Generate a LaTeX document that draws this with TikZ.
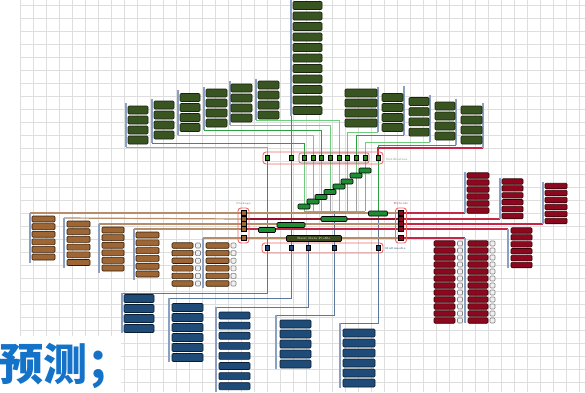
\documentclass[tikz,border=0pt]{standalone}
\usepackage{fontspec}
\newfontfamily\cjk{Noto Sans CJK SC}
\usetikzlibrary{positioning}

\definecolor{gfill}{RGB}{56,84,33}
\definecolor{gedge}{RGB}{25,35,15}
\definecolor{brfill}{RGB}{158,102,52}
\definecolor{bredge}{RGB}{50,30,10}
\definecolor{rdfill}{RGB}{140,8,30}
\definecolor{rdedge}{RGB}{50,0,5}
\definecolor{blfill}{RGB}{30,75,120}
\definecolor{bledge}{RGB}{10,30,50}
\definecolor{grpblue}{RGB}{140,160,195}
\definecolor{gridgray}{RGB}{222,222,222}
\definecolor{wgreen}{RGB}{110,205,125}
\definecolor{wgreendk}{RGB}{40,160,60}
\definecolor{wbrown}{RGB}{182,140,105}
\definecolor{wred}{RGB}{195,40,70}
\definecolor{wreddk}{RGB}{150,20,45}
\definecolor{wblue}{RGB}{90,120,155}
\definecolor{framered}{RGB}{240,105,105}
\definecolor{cjkblue}{RGB}{20,115,200}
\definecolor{olivebar}{RGB}{60,75,30}
\definecolor{stairgreen}{RGB}{30,140,50}

\pgfdeclarelayer{gridlayer}
\pgfdeclarelayer{wires}
\pgfsetlayers{gridlayer,wires,main}

\tikzset{
  anybox/.style={rounded corners=1pt, line width=0.6pt, inner sep=0pt},
  gbox/.style={anybox, draw=gedge, fill=gfill, minimum height=8pt},
  brbox/.style={anybox, draw=bredge, fill=brfill, minimum height=6pt},
  rdbox/.style={anybox, draw=rdedge, fill=rdfill, minimum height=5.5pt},
  blbox/.style={anybox, draw=bledge, fill=blfill, minimum height=8pt},
  icobox/.style={anybox, draw=gray, fill=gray!12, minimum width=5pt, minimum height=5pt},
  gpin/.style={draw=black, fill=gfill!70!green, minimum width=4pt, minimum height=5pt, inner sep=0pt},
  brpin/.style={draw=black, fill=brfill, minimum width=5pt, minimum height=5pt, inner sep=0pt},
  rdpin/.style={draw=black, fill=rdfill, minimum width=5pt, minimum height=5pt, inner sep=0pt},
  blpin/.style={draw=black, fill=blfill, minimum width=4pt, minimum height=5pt, inner sep=0pt},
  stairbox/.style={anybox, draw=black, fill=stairgreen, minimum width=12pt, minimum height=5pt},
  frame/.style={draw=framered, line width=0.9pt, rounded corners=3pt, inner sep=0pt},
  grpline/.style={grpblue, line width=1.6pt},
  gwire/.style={wgreen, line width=0.9pt},
  gwiredk/.style={wgreendk, line width=0.9pt},
  bwire/.style={wbrown, line width=1.2pt},
  rwire/.style={wred, line width=1.1pt},
  rwiredk/.style={wreddk, line width=1.1pt},
  uwire/.style={wblue, line width=0.8pt},
  graywire/.style={gray!75, line width=0.8pt},
  tag/.style={font=\fontsize{3}{3}\selectfont, inner sep=0pt}
}

% one stack of boxes with its bar:
% name, box style, bar x, bar top, bar bottom, box x, first y, pitch, count
\newcommand{\boxstack}[9]{%
  \coordinate (#1-top) at (#3,#4);
  \coordinate (#1-bot) at (#3,#5);
  \draw[grpline] (#1-top) -- (#1-bot);
  \foreach \k in {1,...,#9}
    \node[#2] (#1-\k) at (#6,{#7+(\k-1)*#8}) {};
}

\begin{document}
\begin{tikzpicture}[x=1pt,y=-1pt]
\useasboundingbox (0,0) rectangle (585,392);

\begin{pgfonlayer}{gridlayer}
\foreach \gx in {20,33,...,585}
  \draw[gridgray, line width=0.5pt] (\gx,0) -- (\gx,392);
\foreach \gy in {5,18,...,392}
  \draw[gridgray, line width=0.5pt] (20,\gy) -- (585,\gy);
\end{pgfonlayer}

% green stacks (top)
\boxstack{gA}{gbox,minimum width=20pt}{125.7}{103}{147}{138}{110}{10}{4}
\boxstack{gB}{gbox,minimum width=20pt}{151.7}{99}{143}{164}{105}{10}{4}
\boxstack{gC}{gbox,minimum width=20pt}{177.7}{90}{135}{190}{97.5}{10}{4}
\boxstack{gD}{gbox,minimum width=21pt}{204}{87}{130}{216.5}{93}{10}{4}
\boxstack{gE}{gbox,minimum width=21pt}{229.7}{81}{125}{241.5}{88}{10}{4}
\boxstack{gF}{gbox,minimum width=21pt}{255.7}{79}{120}{268.5}{85}{10}{4}
\boxstack{gcol}{gbox,minimum width=29pt}{291}{0}{116}{307.5}{5.5}{10.5}{11}
\boxstack{gR1}{gbox,minimum width=32pt}{378}{87}{132}{361}{93}{10}{4}
\boxstack{gR2}{gbox,minimum width=21pt}{404}{86}{135}{392.5}{97.5}{10}{4}
\boxstack{gR3}{gbox,minimum width=20pt}{430}{95}{142}{419}{101.5}{10.2}{4}
\boxstack{gR4}{gbox,minimum width=20pt}{456}{99}{145}{445}{106}{10}{4}
\boxstack{gR5}{gbox,minimum width=21pt}{483}{103}{148}{471.5}{110}{10}{4}

% brown stacks (left)
\boxstack{brA}{brbox,minimum width=23pt}{30}{213}{263}{43.5}{219}{7.6}{6}
\boxstack{brB}{brbox,minimum width=23pt}{64}{218}{268}{78.5}{224}{7.7}{6}
\boxstack{brC}{brbox,minimum width=22pt}{99}{224}{273}{113}{230}{7.6}{6}
\boxstack{brD}{brbox,minimum width=23pt}{134}{229}{280}{147.5}{235}{7.8}{6}
\coordinate (brS-top) at (203,238);
\coordinate (brS-bot) at (203,288);
\draw[grpline] (brS-top) -- (brS-bot);
\foreach \k in {1,...,6}{
  \node[brbox,minimum height=5.5pt,minimum width=21pt] (brS-a\k) at (182.5,{245.5+(\k-1)*7.6}) {};
  \node[icobox] (brS-ai\k) at (198,{245.5+(\k-1)*7.6}) {};
  \node[brbox,minimum height=5.5pt,minimum width=23pt] (brS-b\k) at (217.5,{245.5+(\k-1)*7.6}) {};
  \node[icobox] (brS-bi\k) at (233.5,{245.5+(\k-1)*7.6}) {};
}

% red stacks (right)
\boxstack{rdA}{rdbox,minimum width=22pt}{465}{172}{213}{478}{175.5}{7}{6}
\boxstack{rdB}{rdbox,minimum width=21pt}{500}{178}{219}{512.5}{181.5}{6.9}{6}
\boxstack{rdC}{rdbox,minimum width=22pt}{543}{182}{224}{556}{186}{7}{6}
\boxstack{rdD}{rdbox,minimum width=21pt}{508}{229}{268}{521.5}{230.5}{6.9}{6}
\coordinate (rdS-top) at (465,238);
\coordinate (rdS-bot) at (465,323);
\draw[grpline] (rdS-top) -- (rdS-bot);
\foreach \k in {1,...,12}{
  \node[rdbox,minimum width=21pt] (rdS-a\k) at (444.5,{243.5+(\k-1)*7.0}) {};
  \node[icobox] (rdS-ai\k) at (460,{243.5+(\k-1)*7.0}) {};
  \node[rdbox,minimum width=20pt] (rdS-b\k) at (478,{243.5+(\k-1)*7.0}) {};
  \node[icobox] (rdS-bi\k) at (492.5,{243.5+(\k-1)*7.0}) {};
}

% blue stacks (bottom)
\boxstack{blA}{blbox,minimum width=30pt}{122}{293}{333}{139}{298.5}{10}{4}
\boxstack{blB}{blbox,minimum width=31pt}{169}{298}{362}{187.5}{307.5}{10}{6}
\boxstack{blC}{blbox,minimum width=31pt,minimum height=7pt}{216}{307}{392}{234.5}{315.5}{10.1}{8}
\boxstack{blD}{blbox,minimum width=31pt}{276}{315}{369}{295.5}{324}{10}{5}
\boxstack{blE}{blbox,minimum width=32pt}{340}{323}{388}{359}{333}{10}{6}

% hubs
\node[frame, minimum width=120pt, minimum height=12pt] (nfframe) at (323,158) {};
\node[draw=gray!70!red, rounded corners=2pt, line width=0.6pt, minimum width=70pt, minimum height=10pt] (nfinner) at (334,158) {};
\foreach \i/\x in {1/267,2/291,3/304,4/313,5/321,6/330,7/339,8/347,9/356,10/365,11/378}
  \node[gpin] (nf\i) at (\x,158) {};
\node[tag, text=olivebar!70, anchor=west] (nftag) at (386,159) {Notification};

\node[frame, minimum width=11pt, minimum height=35pt] (ppframe) at (243.5,225.5) {};
\node[frame, minimum width=11pt, minimum height=35pt] (rpframe) at (401,225.5) {};
\foreach \i/\y in {1/213,2/219,3/224,4/229,5/238}{
  \node[brpin] (pp\i) at (243.5,\y) {};
  \node[rdpin] (rp\i) at (401,\y) {};
}
\node[tag, text=brfill, above=2pt of ppframe] (pptag) {Package};
\node[tag, text=wred, above=2pt of rpframe] (rptag) {Hybrids};

\node[frame, minimum width=121pt, minimum height=10pt] (mmframe) at (322.5,248) {};
\foreach \i/\x in {1/267,2/291,3/308,4/334,5/378}
  \node[blpin] (mm\i) at (\x,248) {};
\node[tag, text=blfill, anchor=west] (mmtag) at (385,248) {Multimedia};

% staircase and middle boxes
\foreach \i/\x/\y in {1/304/206.5,2/313/201.5,3/321/197,4/330/192,5/339/186.5,6/347/181.5,7/356/175.5,8/365/170.5}
  \node[stairbox] (st\i) at (\x,\y) {};
\coordinate (bus) at (334,211);
\node[stairbox, minimum width=19pt] (m1) at (378,213.5) {};
\node[stairbox, minimum width=26pt] (m2) at (334,219) {};
\node[stairbox, minimum width=28pt] (m3) at (291,225) {};
\node[stairbox, minimum width=17pt] (m4) at (267,230) {};
\node[anybox, draw=black, fill=olivebar, minimum width=55pt, minimum height=6pt,
  tag, text=white] (bdp) at (314,238.5) {Basic Data Profile};

\node[text=cjkblue, anchor=base west, inner sep=0pt,
  font=\cjk\bfseries\fontsize{44}{44}\selectfont] (predict) at (-1,380) {预测；};

\begin{pgfonlayer}{wires}
\fill[white] (0,336) rectangle (121,392);
% green feeds
\draw[gwire] (gA-bot) -| (nf1.north);
\draw[gwiredk] (gB-bot) -| (nf3.north);
\draw[gwire] (gC-bot) -| (nf4.north);
\draw[gwiredk] (gD-bot) -| (nf5.north);
\draw[gwire] (gE-bot) -| (nf6.north);
\draw[gwire] (gF-bot) -| (nf7.north);
\draw[gwiredk] (gcol-bot) -- (nf2.north);
\draw[gwire] (gR1-bot) -| (nf8.north);
\draw[gwiredk] (gR2-bot) -| (nf9.north);
\draw[gwire] (gR3-bot) -| (nf10.north);
\draw[gwiredk] (gR4-bot) -| (nf11.north);
\draw[rwire] (gR5-bot) -| (nf11.north);
% notification down
\foreach \i/\j in {1/3,2/4,3/5,4/6,5/7,6/8,7/9,8/10}{
  \draw[gwire] (nf\j.south) -- (st\i.north);
  \draw[graywire] (st\i.south) -- (st\i |- bus);
}
\draw[graywire] (st1 |- bus) -- (st8 |- bus);
\draw[gwiredk] (nf1.south) -- (m4.north);
\draw[gwiredk] (nf2.south) -- (m3.north);
\draw[gwiredk] (nf11.south) -- (m1.north);
\draw[uwire] (bus) -- (m2.north);
\draw[uwire] (m2.south) -- (bdp.north -| m2);
\draw[uwire] (m4.south) -- (mm1.north);
\draw[uwire] (m3.south) -- (mm2.north);
\draw[uwire] (bdp.south -| mm3) -- (mm3.north);
\draw[uwire] (bdp.south -| mm4) -- (mm4.north);
\draw[uwire] (m1.south) -- (mm5.north);
% brown and red feeds
\draw[bwire] (brA-top) -- (pp1);
\draw[bwire] (brB-top) -- (pp2);
\draw[bwire] (brC-top) -- (pp3);
\draw[bwire] (brD-top) -- (pp4);
\draw[bwire] (brS-top) -- (pp5);
\draw[bwire] (pp1) -- (rp1);
\draw[rwiredk] (pp2) -- (rp2);
\draw[bwire] (pp3) -- (rp3);
\draw[rwire] (pp4) -- (rp4);
\draw[bwire] (pp5) -- (rp5);
\draw[rwire] (rp1) -- (rdA-bot);
\draw[rwire] (rp2) -- (rdB-bot);
\draw[rwire] (rp3) -- (rdC-bot);
\draw[rwire] (rp4) -- (rdD-top);
\draw[rwire] (rp5) -- (rdS-top);
% blue feeds
\draw[uwire] (mm1.south) |- (blA-top);
\draw[uwire] (mm2.south) |- (blB-top);
\draw[uwire] (mm3.south) |- (blC-top);
\draw[uwire] (mm4.south) |- (blD-top);
\draw[uwire] (mm5.south) |- (blE-top);
\end{pgfonlayer}
\end{tikzpicture}
\end{document}
